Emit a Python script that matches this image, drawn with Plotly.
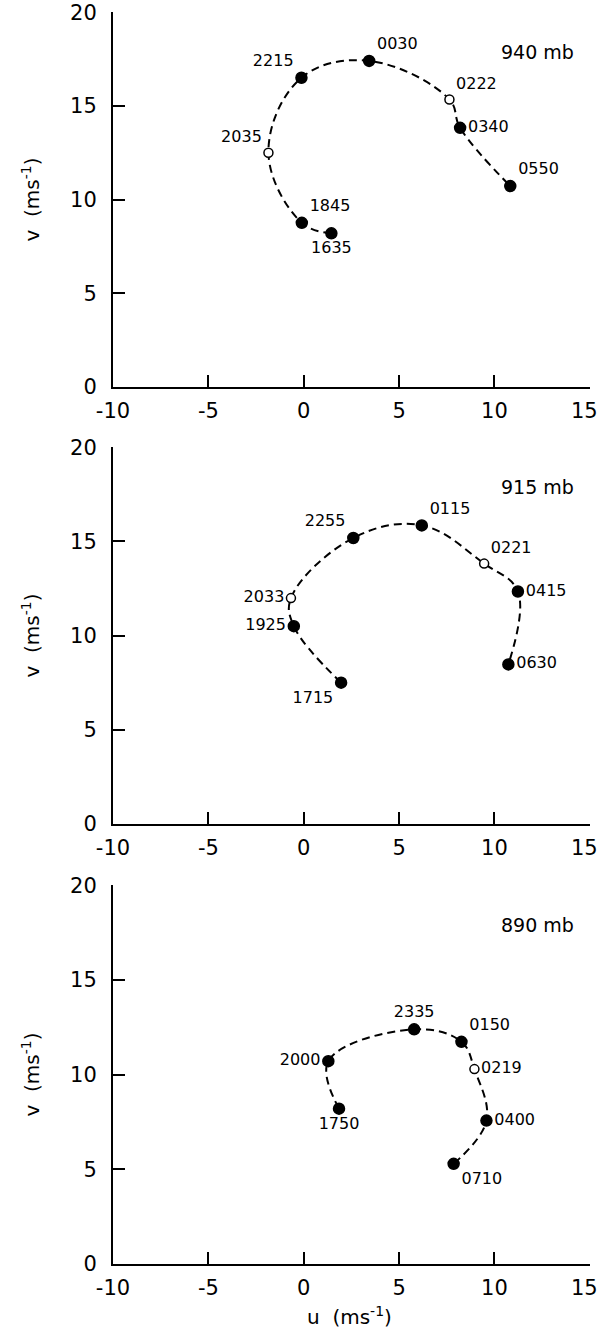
import plotly.graph_objects as go

# ---------------- data ----------------
u_940 = [1.45, -0.10, -1.85, -0.12, 3.43, 7.64, 8.20, 10.83]
v_940 = [8.20, 8.76, 12.50, 16.50, 17.40, 15.34, 13.83, 10.72]
t_940 = ["1635", "1845", "2035", "2215", "0030", "0222", "0340", "0550"]
open_940 = [False, False, True, False, False, True, False, False]

u_915 = [1.96, -0.52, -0.67, 2.60, 6.19, 9.46, 11.23, 10.73]
v_915 = [7.50, 10.50, 11.99, 15.18, 15.85, 13.82, 12.34, 8.47]
t_915 = ["1715", "1925", "2033", "2255", "0115", "0221", "0415", "0630"]
open_915 = [False, False, True, False, False, True, False, False]

u_890 = [1.85, 1.29, 5.79, 8.27, 8.95, 9.58, 7.86]
v_890 = [8.20, 10.71, 12.39, 11.73, 10.29, 7.57, 5.29]
t_890 = ["1750", "2000", "2335", "0150", "0219", "0400", "0710"]
open_890 = [False, False, False, False, True, False, False]

levels = ["940 mb", "915 mb", "890 mb"]
x_ticks = [-10, -5, 0, 5, 10, 15]
y_ticks = [0, 5, 10, 15, 20]

# label placement (style)
pos_940 = ["bottom center", "top right", "top left", "top left", "top right",
           "top right", "middle right", "top right"]
pos_915 = ["bottom left", "middle left", "middle left", "top left", "top right",
           "top right", "middle right", "middle right"]
pos_890 = ["bottom center", "middle left", "top center", "top right",
           "middle right", "middle right", "bottom right"]

panels = [
    (u_940, v_940, t_940, open_940, pos_940),
    (u_915, v_915, t_915, open_915, pos_915),
    (u_890, v_890, t_890, open_890, pos_890),
]

W, H = 601, 1338
ML, MR, MT, MB = 113, 11, 12, 74
plot_h = H - MT - MB
pw = W - ML - MR
# pixel extents of the three panels (top, bottom)
pix = [(12, 387), (447, 824), (885, 1264)]
domains = [[(H - MB - b) / plot_h, (H - MB - t) / plot_h] for t, b in pix]

FONT = "DejaVu Sans"
fig = go.Figure()

# the last x tick label sits at the page edge; it is drawn right-aligned to stay inside
x_ticktext = [str(x) for x in x_ticks[:-1]] + [""]

for i, (u, v, t, op, pos) in enumerate(panels):
    xa = "x" if i == 0 else f"x{i+1}"
    ya = "y" if i == 0 else f"y{i+1}"
    fig.add_trace(go.Scatter(
        x=u, y=v, mode="lines", xaxis=xa, yaxis=ya,
        line=dict(color="black", width=2, dash="8px,5px", shape="spline", smoothing=1.1),
        hoverinfo="skip", showlegend=False))
    fig.add_trace(go.Scatter(
        x=u, y=v, mode="markers+text", xaxis=xa, yaxis=ya,
        text=t, textposition=pos,
        textfont=dict(family=FONT, size=16, color="black"),
        marker=dict(size=[9 if o else 11 for o in op], opacity=1,
                    color=["white" if o else "black" for o in op],
                    line=dict(color="black", width=1.5)),
        showlegend=False))

    axcommon = dict(showgrid=False, zeroline=False, showline=True, linecolor="black",
                    linewidth=2, ticks="inside", ticklen=12, tickwidth=2, tickcolor="black",
                    ticklabeloverflow="allow", automargin=False,
                    tickfont=dict(family=FONT, size=21, color="black"))
    fig.update_layout(**{
        ("xaxis" if i == 0 else f"xaxis{i+1}"): dict(
            range=[-10, 15.01], tickvals=x_ticks, ticktext=x_ticktext,
            anchor=ya, domain=[0, 1], ticklabelstandoff=4, **axcommon),
        ("yaxis" if i == 0 else f"yaxis{i+1}"): dict(
            range=[0, 20.01], tickvals=y_ticks, anchor=xa, domain=domains[i],
            ticklabelstandoff=10, **axcommon),
    })
    # last x tick label
    fig.add_annotation(text=str(x_ticks[-1]), xref="paper", yref="paper",
                       x=(600 - ML) / pw, y=(H - MB - (pix[i][1] + 24)) / plot_h,
                       showarrow=False, xanchor="right", yanchor="middle",
                       font=dict(family=FONT, size=21, color="black"))
    # panel level label
    fig.add_annotation(text=levels[i], xref="paper", yref="paper",
                       x=(537 - ML) / pw, y=(H - MB - (pix[i][0] + 40)) / plot_h,
                       showarrow=False, xanchor="center", yanchor="middle",
                       font=dict(family=FONT, size=19, color="black"))
    # y-axis title
    fig.add_annotation(text="v  (ms<sup>-1</sup>)", xref="paper", yref="paper",
                       x=(30 - ML) / pw,
                       y=(H - MB - (pix[i][0] + pix[i][1]) / 2) / plot_h,
                       textangle=-90, showarrow=False, xanchor="center", yanchor="middle",
                       font=dict(family=FONT, size=20, color="black"))

fig.add_annotation(text="u  (ms<sup>-1</sup>)", xref="paper", yref="paper",
                   x=(349 - ML) / pw, y=(H - MB - 1316) / plot_h,
                   showarrow=False, xanchor="center", yanchor="middle",
                   font=dict(family=FONT, size=20, color="black"))

fig.update_layout(width=W, height=H, margin=dict(l=ML, r=MR, t=MT, b=MB, autoexpand=False),
                  paper_bgcolor="white", plot_bgcolor="white")

fig.write_html("out.html")
